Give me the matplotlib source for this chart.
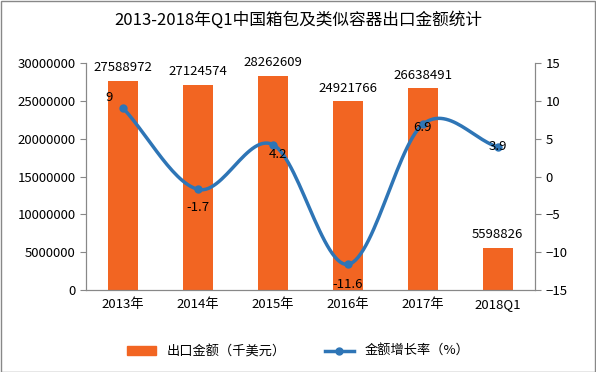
import matplotlib
matplotlib.use("Agg")
from matplotlib import pyplot as plt
import numpy as np

plt.rcParams['font.family'] = ['Noto Sans CJK SC', 'DejaVu Sans']

years = ["2013年", "2014年", "2015年", "2016年", "2017年", "2018Q1"]
export_value = [27588972, 27124574, 28262609, 24921766, 26638491, 5598826]
growth = [9, -1.7, 4.2, -11.6, 6.9, 3.9]
growth_labels = ["9", "-1.7", "4.2", "-11.6", "6.9", "3.9"]

fig = plt.figure(figsize=(5.96, 3.72), dpi=100)
ax = fig.add_axes([0.144, 0.22, 0.754, 0.611])
ax2 = ax.twinx()

x = np.arange(len(years))
ax.bar(x, export_value, width=0.4, color="#F26522", zorder=2)
for i, v in enumerate(export_value):
    ax.text(x[i], v + 900000, str(v), ha="center", va="bottom", fontsize=9.5)

# smooth line through the growth points (Catmull-Rom)
def smooth(xs, ys, n=30):
    px = np.concatenate([[2*xs[0]-xs[1]], xs, [2*xs[-1]-xs[-2]]])
    py = np.concatenate([[2*ys[0]-ys[1]], ys, [2*ys[-1]-ys[-2]]])
    outx, outy = [], []
    t = np.linspace(0, 1, n)
    for k in range(1, len(px)-2):
        for p, o in ((px, outx), (py, outy)):
            p0, p1, p2, p3 = p[k-1], p[k], p[k+1], p[k+2]
            o.extend(0.5*((2*p1) + (-p0+p2)*t + (2*p0-5*p1+4*p2-p3)*t**2 + (-p0+3*p1-3*p2+p3)*t**3))
    return outx, outy

sx, sy = smooth(x.astype(float), np.array(growth, dtype=float))
ax2.plot(sx, sy, color="#2E75B6", lw=2.5, zorder=3)
ax2.plot(x, growth, "o", color="#2E75B6", ms=5, zorder=4)
offsets = [(-0.19, 1.4), (0, -2.4), (0.07, -1.3), (0, -2.7), (0, -0.4), (0, 0)]
for i, g in enumerate(growth):
    ax2.text(x[i] + offsets[i][0], g + offsets[i][1], growth_labels[i], ha="center", va="center", fontsize=9.5, zorder=5)

ax.set_xlim(-0.5, 5.5)
ax.set_ylim(0, 30000000)
ax.set_yticks(np.arange(0, 30000001, 5000000))
ax.set_yticklabels([str(v) for v in range(0, 30000001, 5000000)])
ax2.set_ylim(-15, 15)
ax2.set_yticks(np.arange(-15, 16, 5))
ax.set_xticks(x)
ax.set_xticklabels(years)

for a in (ax, ax2):
    a.spines["top"].set_visible(False)
    a.tick_params(labelsize=9.5, color="#888888", length=4)
    for s in ("left", "right", "bottom"):
        a.spines[s].set_color("#888888")
ax.tick_params(axis="x", length=0, pad=6)

fig.text(0.5, 0.946, "2013-2018年Q1中国箱包及类似容器出口金额统计", ha="center", va="center", fontsize=12)

from matplotlib.patches import Rectangle
from matplotlib.lines import Line2D
handles = [Rectangle((0, 0), 1, 1, color="#F26522"),
           Line2D([0], [0], color="#2E75B6", lw=2.5, marker="o", ms=5)]
fig.legend(handles, ["出口金额（千美元）", "金额增长率（%）"], loc="center", bbox_to_anchor=(0.5, 0.055),
           ncol=2, frameon=False, fontsize=9.5, handlelength=2.2, columnspacing=3)

fig.patches.append(Rectangle((0.001, 0.001), 0.997, 0.997, transform=fig.transFigure, fill=False, edgecolor="#888888", lw=1))
fig.savefig("out.png", dpi=100)
